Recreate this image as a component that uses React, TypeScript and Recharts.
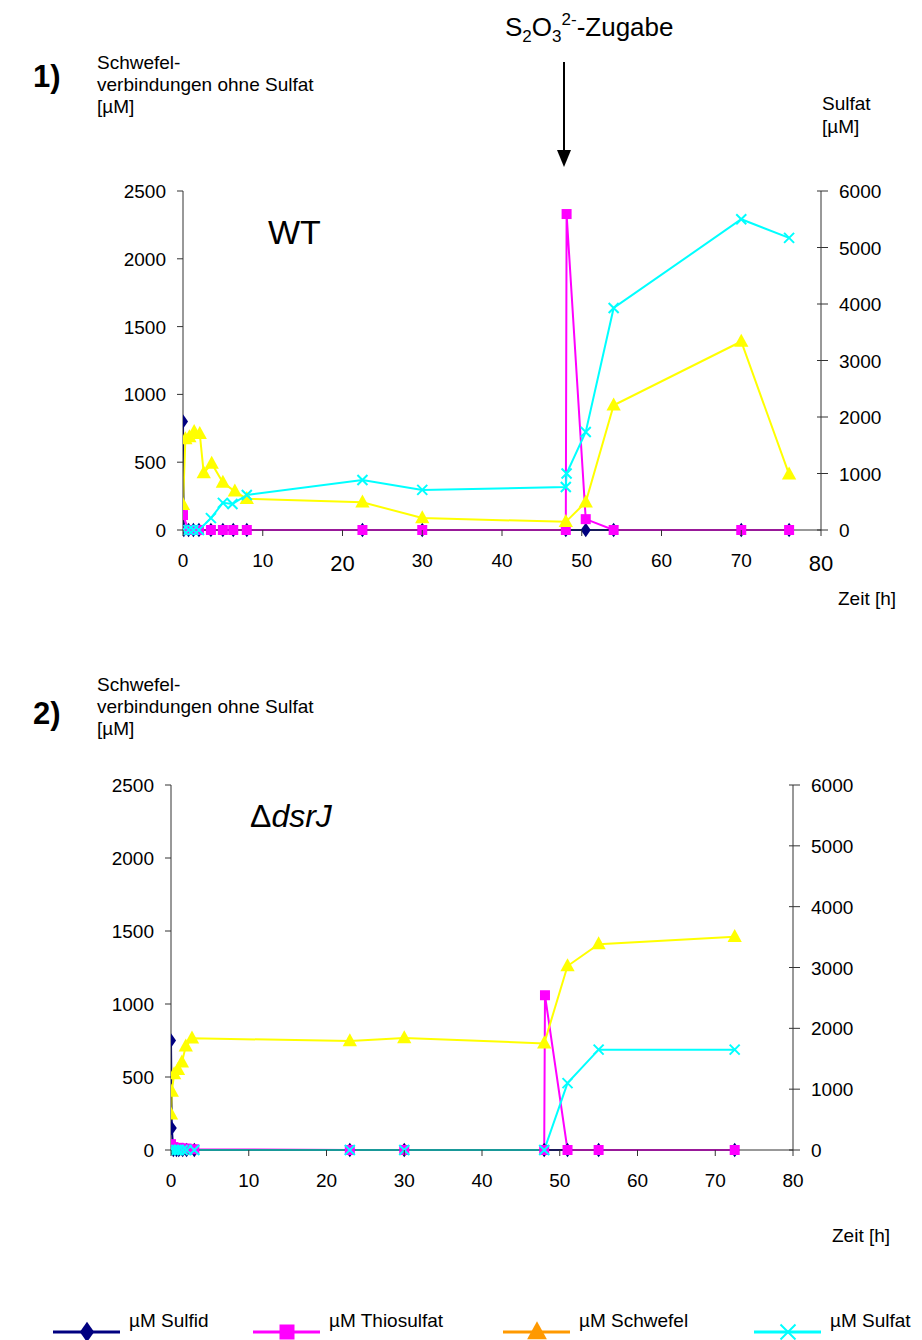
import React from "react";
import { LineChart, Line, XAxis, YAxis } from "recharts";

type Pt = [number, number];

const hourTicks = [0, 10, 20, 30, 40, 50, 60, 70, 80];
const leftTicks = [0, 500, 1000, 1500, 2000, 2500];
const rightTicks = [0, 1000, 2000, 3000, 4000, 5000, 6000];
const legendNames = ["µM Sulfid", "µM Thiosulfat", "µM Schwefel", "µM Sulfat"];

// 1) WT  [Zeit h, µM]
const wtSulfid: Pt[] = [
  [0, 800], [0.1, 0], [0.7, 0], [1.3, 0], [2, 0], [3.5, 0], [5, 0], [6.3, 0], [8, 0],
  [22.5, 0], [30, 0], [48, 0], [50.5, 0], [54, 0], [70, 0], [76, 0],
];
const wtThiosulfat: Pt[] = [
  [0, 110], [0.7, 0], [1.3, 0], [2, 0], [3.5, 0], [5, 0], [6.3, 0], [8, 0],
  [22.5, 0], [30, 0], [48, 0], [48.1, 2330], [50.5, 80], [54, 0], [70, 0], [76, 0],
];
const wtSchwefel: Pt[] = [
  [0, 185], [0.3, 670], [0.8, 685], [1.4, 725], [2.1, 710], [2.6, 420], [3.6, 490],
  [5, 350], [6.5, 285], [8, 230], [22.5, 205], [30, 88], [48, 60], [50.5, 205],
  [54, 920], [70, 1390], [76, 410],
];
const wtSulfat: Pt[] = [
  [0, 0], [0.7, 0], [1.3, 0], [2, 0], [3.5, 210], [5, 480], [6.2, 460], [8, 620],
  [22.5, 885], [30, 710], [48, 760], [48.1, 1000], [50.5, 1735], [54, 3930], [70, 5500], [76, 5170],
];

// 2) ΔdsrJ
const dsrSulfid: Pt[] = [
  [0, 750], [0.1, 150], [0.3, 0], [0.7, 0], [1, 0], [1.5, 0], [2, 0], [3, 0],
  [23, 0], [30, 0], [48, 0], [51, 0], [55, 0], [72.5, 0],
];
const dsrThiosulfat: Pt[] = [
  [0, 40], [0.3, 20], [1, 15], [1.5, 10], [2, 10], [3, 5],
  [23, 0], [30, 0], [48, 0], [48.1, 1060], [51, 0], [55, 0], [72.5, 0],
];
const dsrSchwefel: Pt[] = [
  [0, 245], [0.1, 400], [0.4, 520], [0.9, 550], [1.4, 600], [1.9, 710], [2.7, 765],
  [23, 747], [30, 767], [48, 730], [51, 1260], [55, 1410], [72.5, 1460],
];
const dsrSulfat: Pt[] = [
  [0, 0], [0.3, 0], [0.7, 0], [1, 0], [1.5, 0], [2, 0], [3, 0],
  [23, 0], [30, 0], [48, 0], [51, 1100], [55, 1650], [72.5, 1650],
];

const FONT = "'Liberation Sans', Arial, sans-serif";
const AXIS = "#333";

const looks = [
  { kind: "diamond", color: "#000080", legend: "#000080", axis: "left", size: 12 },
  { kind: "square", color: "#ff00ff", legend: "#ff00ff", axis: "left", size: 10 },
  { kind: "triangle", color: "#ffff00", legend: "#ff9900", axis: "left", size: 13 },
  { kind: "cross", color: "#00ffff", legend: "#00ffff", axis: "right", size: 10 },
];

const Marker = ({ kind, x, y, color, s }: any) => {
  if (kind === "diamond")
    return <polygon points={`${x},${y - s * 0.6} ${x + s * 0.42},${y} ${x},${y + s * 0.6} ${x - s * 0.42},${y}`} fill={color} />;
  if (kind === "square")
    return <rect x={x - s / 2} y={y - s / 2} width={s} height={s} fill={color} />;
  if (kind === "triangle")
    return <polygon points={`${x},${y - s * 0.6} ${x + s * 0.55},${y + s * 0.4} ${x - s * 0.55},${y + s * 0.4}`} fill={color} />;
  return (
    <path
      d={`M${x - s / 2},${y - s / 2}L${x + s / 2},${y + s / 2}M${x + s / 2},${y - s / 2}L${x - s / 2},${y + s / 2}`}
      stroke={color}
      strokeWidth={2}
      fill="none"
    />
  );
};

const LeftTick = (p: any) => (
  <g>
    <line x1={p.x - 6} x2={p.x} y1={p.y} y2={p.y} stroke={AXIS} />
    <text x={p.x - 17} y={p.y + 7} textAnchor="end" fontSize={19} fontFamily={FONT} fill="#000">
      {p.payload.value}
    </text>
  </g>
);

const RightTick = (p: any) => (
  <g>
    <line x1={p.x - 4} x2={p.x + 7} y1={p.y} y2={p.y} stroke={AXIS} />
    <text x={p.x + 18} y={p.y + 7} textAnchor="start" fontSize={19} fontFamily={FONT} fill="#000">
      {p.payload.value}
    </text>
  </g>
);

const makeXTick = (big: number[]) => (p: any) => {
  const isBig = big.includes(p.payload.value);
  return (
    <g>
      <line x1={p.x} x2={p.x} y1={p.y} y2={p.y + 6} stroke={AXIS} />
      <text
        x={p.x}
        y={p.y + (isBig ? 41 : 37)}
        textAnchor="middle"
        fontSize={isBig ? 22 : 19}
        fontFamily={FONT}
        fill="#000"
      >
        {p.payload.value}
      </text>
    </g>
  );
};

const Panel = ({ left, top, width, height, series, bigTicks, name }: any) => (
  <div style={{ position: "absolute", left, top }}>
    <LineChart width={width} height={height} margin={{ top: 20, right: 0, bottom: 20, left: 0 }}>
      <XAxis
        type="number"
        dataKey="t"
        domain={[0, 80]}
        ticks={hourTicks}
        interval={0}
        allowDataOverflow
        height={40}
        stroke={AXIS}
        tickLine={false}
        tickSize={0}
        tickMargin={0}
        tick={makeXTick(bigTicks)}
      />
      <YAxis
        yAxisId="left"
        domain={[0, 2500]}
        ticks={leftTicks}
        interval={0}
        width={80}
        stroke={AXIS}
        tickLine={false}
        tickSize={0}
        tickMargin={0}
        tick={LeftTick}
      />
      <YAxis
        yAxisId="right"
        orientation="right"
        domain={[0, 6000]}
        ticks={rightTicks}
        interval={0}
        width={80}
        stroke={AXIS}
        tickLine={false}
        tickSize={0}
        tickMargin={0}
        tick={RightTick}
      />
      {series.map((pts: Pt[], i: number) => {
        const lk = looks[i];
        return (
          <Line
            key={`${name}-${i}`}
            yAxisId={lk.axis}
            data={pts.map(([t, v]) => ({ t, v }))}
            dataKey="v"
            type="linear"
            stroke={lk.color}
            strokeWidth={2}
            isAnimationActive={false}
            activeDot={false}
            dot={(d: any) => (
              <g key={`${name}-${i}-${d.index}`}>
                <Marker kind={lk.kind} x={d.cx} y={d.cy} color={lk.color} s={lk.size} />
              </g>
            )}
          />
        );
      })}
    </LineChart>
  </div>
);

const txt = { fontFamily: FONT, fill: "#000" } as const;

export default function App() {
  const legendX = [53, 253, 503, 754];
  return (
    <div style={{ position: "absolute", left: 0, top: 0, width: 922, height: 1340, background: "#fff", fontFamily: FONT }}>
      <Panel
        name="wt"
        left={103}
        top={171}
        width={798}
        height={419}
        series={[wtSulfid, wtThiosulfat, wtSchwefel, wtSulfat]}
        bigTicks={[20, 80]}
      />
      <Panel
        name="dsr"
        left={91}
        top={765}
        width={782}
        height={445}
        series={[dsrSulfid, dsrThiosulfat, dsrSchwefel, dsrSulfat]}
        bigTicks={[]}
      />
      <svg width={922} height={1340} style={{ position: "absolute", left: 0, top: 0, pointerEvents: "none" }}>
        {/* Zugabe-Pfeil */}
        <text x={505} y={36} fontSize={26} {...txt}>
          S<tspan fontSize={17} dy={6}>2</tspan>
          <tspan dy={-6}>O</tspan>
          <tspan fontSize={17} dy={6}>3</tspan>
          <tspan fontSize={17} dy={-17}>2-</tspan>
          <tspan dy={11}>-Zugabe</tspan>
        </text>
        <line x1={564} x2={564} y1={62} y2={152} stroke="#000" strokeWidth={2} />
        <polygon points="557,150 571,150 564,167" fill="#000" />

        <text x={33} y={87} fontSize={31} fontWeight="bold" {...txt}>1)</text>
        <text x={97} y={69} fontSize={19} {...txt}>Schwefel-</text>
        <text x={97} y={91} fontSize={19} {...txt}>verbindungen ohne Sulfat</text>
        <text x={97} y={113} fontSize={19} {...txt}>[µM]</text>
        <text x={822} y={110} fontSize={19} {...txt}>Sulfat</text>
        <text x={822} y={133} fontSize={19} {...txt}>[µM]</text>
        <text x={268} y={244} fontSize={34} {...txt}>WT</text>
        <text x={838} y={605} fontSize={19} {...txt}>Zeit [h]</text>

        <text x={33} y={724} fontSize={31} fontWeight="bold" {...txt}>2)</text>
        <text x={97} y={691} fontSize={19} {...txt}>Schwefel-</text>
        <text x={97} y={713} fontSize={19} {...txt}>verbindungen ohne Sulfat</text>
        <text x={97} y={735} fontSize={19} {...txt}>[µM]</text>
        <text x={250} y={827} fontSize={32} {...txt}>
          Δ<tspan fontStyle="italic">dsrJ</tspan>
        </text>
        <text x={832} y={1242} fontSize={19} {...txt}>Zeit [h]</text>

        {legendX.map((lx, i) => (
          <g key={legendNames[i]}>
            <line x1={lx} x2={lx + 67} y1={1332} y2={1332} stroke={looks[i].legend} strokeWidth={3} />
            <Marker kind={looks[i].kind} x={lx + 34} y={1332} color={looks[i].legend} s={looks[i].size + 5} />
            <text x={lx + 76} y={1327} fontSize={19} {...txt}>{legendNames[i]}</text>
          </g>
        ))}
      </svg>
    </div>
  );
}
